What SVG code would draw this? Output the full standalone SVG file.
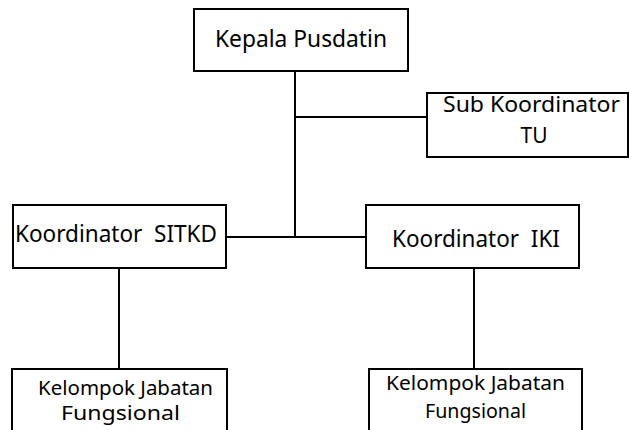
<svg xmlns="http://www.w3.org/2000/svg" width="629" height="430" viewBox="0 0 629 430">
<style>
.box{fill:#fff;stroke:#000;stroke-width:2}
.ln{stroke:#000;stroke-width:2;fill:none}
text{font-family:"Noto Sans","Open Sans","Liberation Sans",sans-serif;fill:#000}
.big{font-size:23px}
.mid{font-size:21px}
.sm{font-size:20px}
</style>
<rect width="629" height="430" fill="#fff"/>
<g id="connectors">
<line class="ln" x1="295" y1="71" x2="295" y2="237"/>
<line class="ln" x1="295" y1="117" x2="427" y2="117"/>
<line class="ln" x1="226" y1="237" x2="366" y2="237"/>
<line class="ln" x1="119" y1="268" x2="119" y2="369"/>
<line class="ln" x1="474" y1="268" x2="474" y2="369"/>
</g>
<g id="kepala">
<rect class="box" x="194" y="9" width="214" height="62"/>
<text class="big" x="215" y="47" textLength="172" lengthAdjust="spacingAndGlyphs">Kepala Pusdatin</text>
</g>
<g id="subtu">
<rect class="box" x="427" y="93" width="201" height="64"/>
<text class="mid" x="443" y="112" textLength="177" lengthAdjust="spacingAndGlyphs">Sub Koordinator</text>
<text class="mid" x="534" y="143" text-anchor="middle">TU</text>
</g>
<g id="sitkd">
<rect class="box" x="13" y="205" width="213" height="63"/>
<text class="big" x="15" y="242" textLength="202" lengthAdjust="spacingAndGlyphs" xml:space="preserve">Koordinator  SITKD</text>
</g>
<g id="iki">
<rect class="box" x="366" y="205" width="213" height="63"/>
<text class="big" x="392" y="247" textLength="168" lengthAdjust="spacingAndGlyphs" xml:space="preserve">Koordinator  IKI</text>
</g>
<g id="kjf1">
<rect class="box" x="12" y="369" width="215" height="80"/>
<text class="sm" x="38" y="395" textLength="175" lengthAdjust="spacingAndGlyphs">Kelompok Jabatan</text>
<text class="sm" x="61" y="420" textLength="119" lengthAdjust="spacingAndGlyphs">Fungsional</text>
</g>
<g id="kjf2">
<rect class="box" x="369" y="369" width="213" height="80"/>
<text class="sm" x="386" y="390" textLength="179" lengthAdjust="spacingAndGlyphs">Kelompok Jabatan</text>
<text class="sm" x="425" y="418" textLength="101" lengthAdjust="spacingAndGlyphs">Fungsional</text>
</g>
</svg>
